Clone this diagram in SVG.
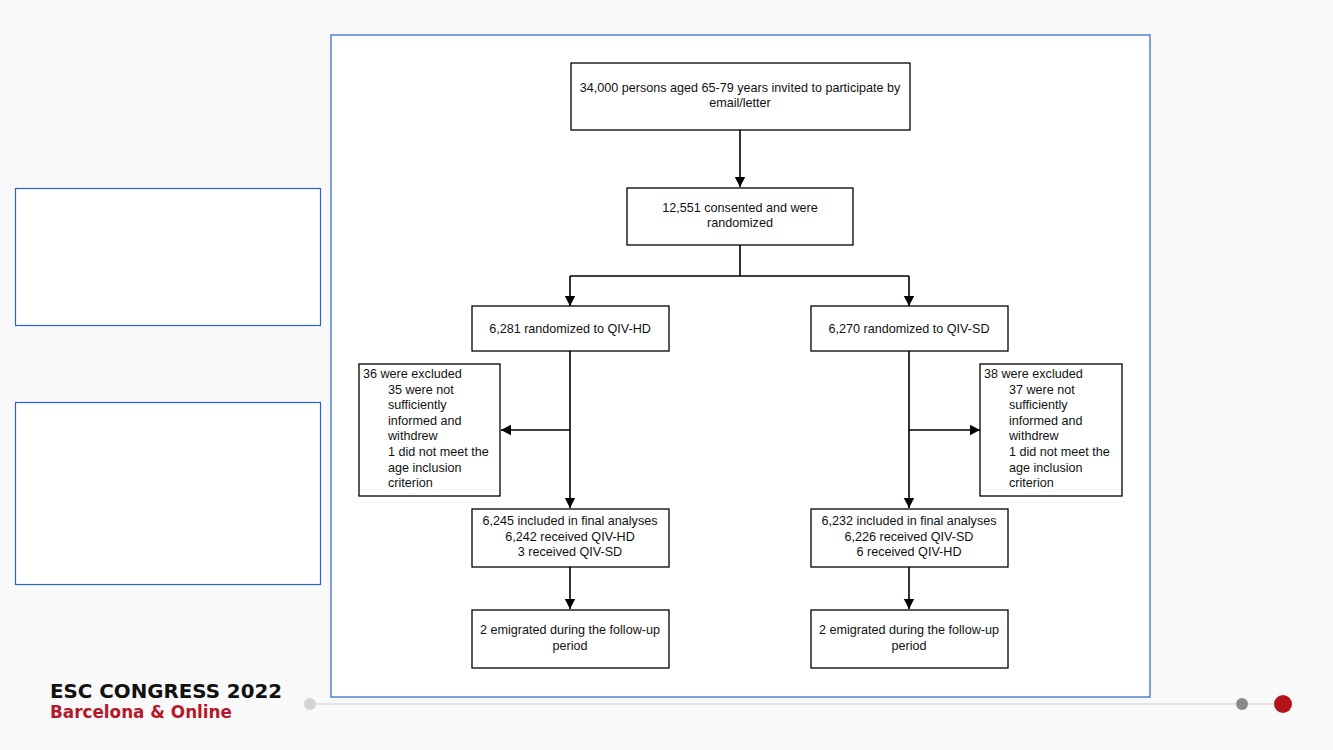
<svg xmlns="http://www.w3.org/2000/svg" width="1333" height="750" viewBox="0 0 1333 750">
<defs>
<marker id="ah" markerWidth="10" markerHeight="12" refX="10" refY="6" orient="auto" markerUnits="userSpaceOnUse">
<path d="M0,0.8 L10,6 L0,11.2 Z" fill="#000"/>
</marker>
</defs>
<style>
.bx{fill:#fff;stroke:#000;stroke-width:1.3}
.pn{fill:#fff;stroke:#2c63c9;stroke-width:1.2}
.t{font-family:"Liberation Sans",Arial,sans-serif;font-size:12.6px;fill:#111}
.c{text-anchor:middle}
.ln{fill:none;stroke:#000;stroke-width:1.6}
.ar{fill:none;stroke:#000;stroke-width:1.6;marker-end:url(#ah)}
</style>
<rect width="1333" height="750" fill="#f9f9f9"/>
<rect class="pn" x="331" y="35" width="819" height="662"/>
<rect class="pn" x="15.5" y="188.5" width="305" height="137"/>
<rect class="pn" x="15.5" y="402.5" width="305" height="182"/>

<g id="connectors">
<path class="ar" d="M740,130 V187"/>
<path class="ln" d="M740,245 V276 M570,276 H909"/>
<path class="ar" d="M570,276 V306"/>
<path class="ar" d="M909,276 V306"/>
<path class="ar" d="M570,351 V508"/>
<path class="ar" d="M570,430 H501"/>
<path class="ar" d="M909,351 V508"/>
<path class="ar" d="M909,430 H980"/>
<path class="ar" d="M570,567 V609"/>
<path class="ar" d="M909,567 V609"/>
</g>

<g id="n1"><rect class="bx" x="571" y="63" width="339" height="67"/>
<text class="t c" x="740" y="92">34,000 persons aged 65-79 years invited to participate by</text>
<text class="t c" x="740" y="107">email/letter</text></g>

<g id="n2"><rect class="bx" x="627" y="188" width="226" height="57"/>
<text class="t c" x="740" y="212">12,551 consented and were</text>
<text class="t c" x="740" y="227">randomized</text></g>

<g id="n3"><rect class="bx" x="472" y="306" width="197" height="45"/>
<text class="t c" x="570" y="333">6,281 randomized to QIV-HD</text></g>

<g id="n4"><rect class="bx" x="811" y="306" width="197" height="45"/>
<text class="t c" x="909" y="333">6,270 randomized to QIV-SD</text></g>

<g id="n5"><rect class="bx" x="359" y="364" width="141" height="132"/>
<text class="t" x="363" y="378">36 were excluded</text>
<text class="t" x="388" y="393.6">35 were not</text>
<text class="t" x="388" y="409.2">sufficiently</text>
<text class="t" x="388" y="424.8">informed and</text>
<text class="t" x="388" y="440.4">withdrew</text>
<text class="t" x="388" y="456">1 did not meet the</text>
<text class="t" x="388" y="471.6">age inclusion</text>
<text class="t" x="388" y="487.2">criterion</text></g>

<g id="n6"><rect class="bx" x="980" y="364" width="142" height="132"/>
<text class="t" x="984" y="378">38 were excluded</text>
<text class="t" x="1009" y="393.6">37 were not</text>
<text class="t" x="1009" y="409.2">sufficiently</text>
<text class="t" x="1009" y="424.8">informed and</text>
<text class="t" x="1009" y="440.4">withdrew</text>
<text class="t" x="1009" y="456">1 did not meet the</text>
<text class="t" x="1009" y="471.6">age inclusion</text>
<text class="t" x="1009" y="487.2">criterion</text></g>

<g id="n7"><rect class="bx" x="472" y="509" width="197" height="58"/>
<text class="t c" x="570" y="525">6,245 included in final analyses</text>
<text class="t c" x="570" y="540.5">6,242 received QIV-HD</text>
<text class="t c" x="570" y="556">3 received QIV-SD</text></g>

<g id="n8"><rect class="bx" x="811" y="509" width="197" height="58"/>
<text class="t c" x="909" y="525">6,232 included in final analyses</text>
<text class="t c" x="909" y="540.5">6,226 received QIV-SD</text>
<text class="t c" x="909" y="556">6 received QIV-HD</text></g>

<g id="n9"><rect class="bx" x="472" y="610" width="197" height="58"/>
<text class="t c" x="570" y="634">2 emigrated during the follow-up</text>
<text class="t c" x="570" y="649.5">period</text></g>

<g id="n10"><rect class="bx" x="811" y="610" width="197" height="58"/>
<text class="t c" x="909" y="634">2 emigrated during the follow-up</text>
<text class="t c" x="909" y="649.5">period</text></g>

<g id="footer">
<line x1="310" y1="704" x2="1283" y2="704" stroke="#dcdcdc" stroke-width="1.5"/>
<circle cx="310" cy="704" r="6" fill="#d3d3d3"/>
<circle cx="1242" cy="704" r="6" fill="#8a8a8a"/>
<circle cx="1283" cy="704" r="9" fill="#b5121b"/>
<text x="50" y="698" font-family="'DejaVu Sans',sans-serif" font-weight="bold" font-size="19" fill="#111" textLength="232" lengthAdjust="spacingAndGlyphs">ESC CONGRESS 2022</text>
<text x="50" y="718" font-family="'DejaVu Sans',sans-serif" font-weight="bold" font-size="18" fill="#b5182b" textLength="182" lengthAdjust="spacingAndGlyphs">Barcelona &amp; Online</text>
</g>
</svg>
